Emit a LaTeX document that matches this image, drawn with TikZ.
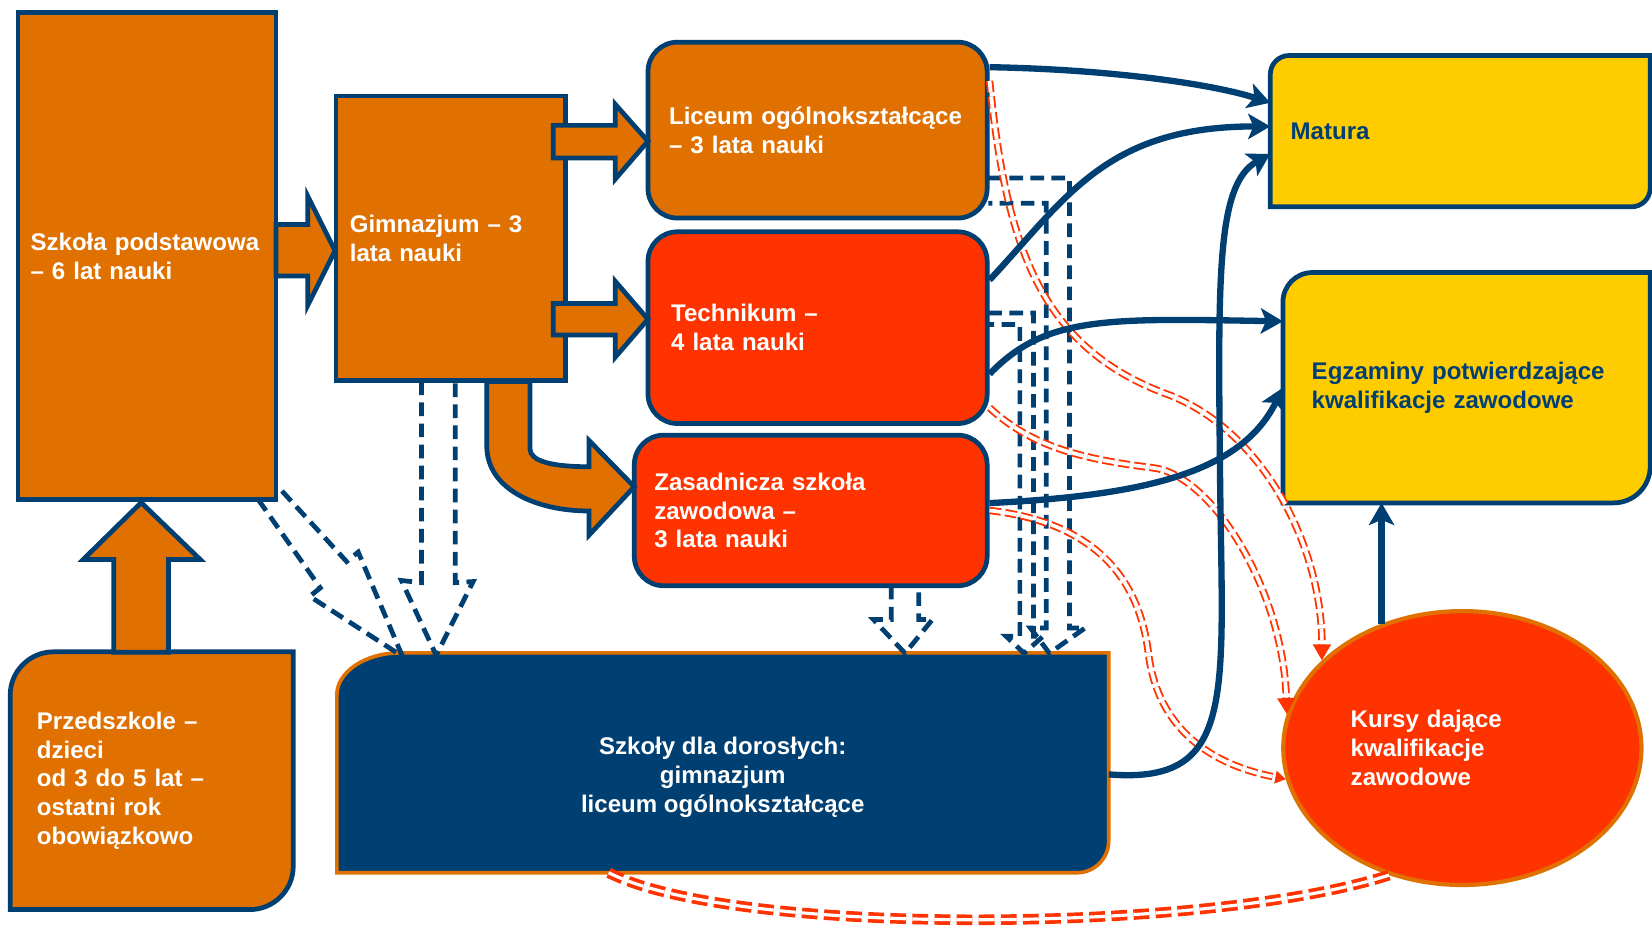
\documentclass[tikz,border=0pt]{standalone}
\usepackage{fontspec}
\setmainfont{Liberation Sans}
\usetikzlibrary{arrows.meta,shapes.geometric,backgrounds}
\definecolor{navy}{RGB}{0,63,114}
\definecolor{ochre}{RGB}{224,112,0}
\definecolor{scarlet}{RGB}{255,51,0}
\definecolor{amber}{RGB}{255,204,0}
\begin{document}
\begin{tikzpicture}[x=0.02cm, y=-0.02cm,
		every node/.style	= {font=\bfseries\fontsize{13}{15.6}\selectfont, inner ysep=0pt},
		box/.style		= {draw=navy, line width=0.09cm, text=white, align=left},
		plate/.style		= {fill=#1, draw=navy, line width=0.09cm},
		blockarr/.style	= {fill=ochre, draw=navy, line width=0.09cm},
		hollow/.style		= {draw=navy, line width=0.09cm, dash pattern=on 0.26cm off 0.14cm},
		flow/.style		= {draw=navy, line width=0.12cm, -{Stealth[length=0.42cm, width=0.48cm, inset=0.1cm]}},
		redlink/.style	= {draw=scarlet, double=white, line width=0.035cm, double distance=0.07cm, dash pattern=on 0.22cm off 0.08cm},
		redtail/.style	= {draw=scarlet, double=white, line width=0.07cm, double distance=0.06cm, dash pattern=on 0.3cm off 0.12cm}]
	% Cadre
	\useasboundingbox	(0,0) rectangle (1568,879);
	% Noeuds
	\node [box, fill=ochre, minimum width=4.9cm, minimum height=9.24cm, text width=4.42cm, inner xsep=0.24cm]	(sp)	at (139.5,243)	{Szkoła podstawowa\\– 6 lat nauki};
	\node [box, fill=ochre, minimum width=4.36cm, minimum height=5.4cm, text width=3.84cm, inner xsep=0.26cm]	(gim)	at (428,226)	{Gimnazjum – 3\\lata nauki};
	\node [box, fill=ochre, rounded corners=0.56cm, minimum width=6.44cm, minimum height=3.34cm, text width=5.64cm, inner xsep=0.4cm]	(lo)	at (776,123.5)	{Liceum ogólnokształcące\\– 3 lata nauki};
	\node [box, fill=scarlet, rounded corners=0.56cm, minimum width=6.44cm, minimum height=3.64cm, text width=5.56cm, inner xsep=0.44cm]	(tech)	at (776,311)	{Technikum –\\4 lata nauki};
	\node [box, fill=scarlet, rounded corners=0.56cm, minimum width=6.7cm, minimum height=2.86cm, text width=5.94cm, inner xsep=0.38cm]	(zsz)	at (769.5,484.5)	{Zasadnicza szkoła\\zawodowa –\\3 lata nauki};
	\node [text=navy, align=left, minimum width=7.2cm, minimum height=2.86cm, text width=6.44cm, inner xsep=0.38cm]	(matura)	at (1386,124.5)	{Matura};
	\node [text=navy, align=left, minimum width=6.96cm, minimum height=4.36cm, text width=5.88cm, inner xsep=0.54cm]	(egz)	at (1392,368)	{Egzaminy potwierdzające\\kwalifikacje zawodowe};
	\node [text=white, align=left, minimum width=5.36cm, minimum height=4.88cm, text width=4.36cm, inner xsep=0.5cm]	(pre)	at (144,741)	{Przedszkole –\\dzieci\\od 3 do 5 lat –\\ostatni rok\\obowiązkowo};
	\node [minimum width=14.64cm, minimum height=4.16cm]	(sdd)	at (686,724)	{};
	\node [text=white, align=center]	(sddtxt)	at ([yshift=-0.28cm]sdd.center)	{Szkoły dla dorosłych:\\gimnazjum\\liceum ogólnokształcące};
	\node [ellipse, fill=scarlet, draw=ochre, line width=0.08cm, text=white, align=left, minimum width=6.8cm, minimum height=5.2cm, text width=4.24cm, inner sep=0pt]	(kursy)	at (1388,710)	{Kursy dające\\kwalifikacje\\zawodowe};
	% Fonds
	\begin{scope}[on background layer]
		\path [plate=amber]	(matura.south west) -- ([yshift=-0.36cm]matura.north west) .. controls ([yshift=-0.16cm]matura.north west) and ([xshift=0.16cm]matura.north west) .. ([xshift=0.36cm]matura.north west) -- (matura.north east) -- ([yshift=0.36cm]matura.south east) .. controls ([yshift=0.16cm]matura.south east) and ([xshift=-0.16cm]matura.south east) .. ([xshift=-0.36cm]matura.south east) -- cycle;
		\path [plate=amber]	(egz.south west) -- ([yshift=-0.56cm]egz.north west) .. controls ([yshift=-0.25cm]egz.north west) and ([xshift=0.25cm]egz.north west) .. ([xshift=0.56cm]egz.north west) -- (egz.north east) -- ([yshift=0.7cm]egz.south east) .. controls ([yshift=0.31cm]egz.south east) and ([xshift=-0.31cm]egz.south east) .. ([xshift=-0.7cm]egz.south east) -- cycle;
		\path [plate=ochre]	(pre.south west) -- ([yshift=-0.82cm]pre.north west) .. controls ([yshift=-0.37cm]pre.north west) and ([xshift=0.37cm]pre.north west) .. ([xshift=0.82cm]pre.north west) -- (pre.north east) -- ([yshift=0.82cm]pre.south east) .. controls ([yshift=0.37cm]pre.south east) and ([xshift=-0.37cm]pre.south east) .. ([xshift=-0.82cm]pre.south east) -- cycle;
		\path [fill=navy, draw=ochre, line width=0.07cm]	(sdd.south west) -- ([yshift=-0.8cm]sdd.north west) .. controls ([yshift=-0.36cm]sdd.north west) and ([xshift=0.54cm]sdd.north west) .. ([xshift=1.2cm]sdd.north west) -- (sdd.north east) -- ([yshift=0.6cm]sdd.south east) .. controls ([yshift=0.27cm]sdd.south east) and ([xshift=-0.27cm]sdd.south east) .. ([xshift=-0.6cm]sdd.south east) -- cycle;
	\end{scope}
	% Flèches pleines
	\path [blockarr]	(262,213) -- (292,213) -- (292,186) -- (318,238) -- (292,290) -- (292,262) -- (262,262) -- cycle;
	\path [blockarr]	(525,119) -- (584,119) -- (584,99) -- (615,134) -- (584,170) -- (584,150) -- (525,150) -- cycle;
	\path [blockarr]	(525,288) -- (584,288) -- (584,267) -- (615,303) -- (584,339) -- (584,318) -- (525,318) -- cycle;
	\path [blockarr]	(462,362) -- (462,423) .. controls (462,465) and (510,485) .. (559,485) -- (559,508) -- (602,462) -- (559,418) -- (559,443) .. controls (525,443) and (503,438) .. (503,426) -- (503,362) -- cycle;
	\path [blockarr]	(108,619) -- (108,531) -- (79,531) -- (134,477) -- (190,531) -- (160,531) -- (160,619) -- cycle;
	% Flèches pointillées
	\draw [hollow]	(245,474) -- (304,558) -- (294,566) -- (382,623) -- (340,524) -- (329,533) -- (263,461);
	\draw [hollow]	(400,362) -- (400,553) -- (381,551) -- (414,622) -- (449,552) -- (432,553) -- (432,362);
	\draw [hollow]	(846,556) -- (846,588) -- (829,588) -- (859,620) -- (885,588) -- (872,588) -- (872,556);
	\draw [hollow]	(938,169) -- (1015,169) -- (1015,596) -- (1030,596) -- (996,620) -- (978,596) -- (993,596) -- (993,193) -- (938,193);
	\draw [hollow]	(938,297) -- (981,297) -- (981,604) -- (990,604) -- (972,620) -- (955,604) -- (968,604) -- (968,308) -- (938,308);
	% Liens rouges
	\draw [redlink, -{Triangle[length=0.3cm, width=0.34cm]}]	([yshift=-0.78cm]lo.north east) .. controls (955,230) and (985,330) .. (1110,375) .. controls (1200,410) and (1255,520) .. (kursy.148);
	\draw [redlink, -{Triangle[length=0.3cm, width=0.34cm]}]	(tech.-25) .. controls (980,425) and (1030,436) .. (1094,444) .. controls (1150,450) and (1218,560) .. (kursy.169);
	\draw [redlink, -{Triangle[length=0.2cm, width=0.24cm]}]	(zsz.east) .. controls (1030,495) and (1080,540) .. (1090,620) .. controls (1100,700) and (1160,728) .. (kursy.190);
	\draw [redtail]	(kursy.-120) .. controls (1150,885) and (700,890) .. ([xshift=5.16cm]sdd.south west);
	% Liens bleus
	\coordinate (coude) at (1158,450);
	\draw [flow]	([yshift=-0.52cm]lo.north east) .. controls +(113,2) and +(-56,-18) .. ([yshift=0.54cm]matura.west);
	\draw [flow]	([yshift=-0.96cm]tech.north east) .. controls +(73,-78) and +(-156,0) .. ([yshift=0.09cm]matura.west);
	\draw [flow]	([yshift=-0.22cm]sdd.east) .. controls (1175,745) and (1160,660) .. (coude) .. controls (1156,260) and (1155,175) .. ([yshift=-0.43cm]matura.west);
	\draw [flow]	([yshift=-0.88cm]tech.east) .. controls +(53,-55) and +(-168,-3) .. ([yshift=1.26cm]egz.west);
	\draw [flow]	([yshift=0.14cm]zsz.east) .. controls +(143,-7) and +(-40,82) .. (egz.west);
	\draw [flow]	(kursy.123) -- (kursy.123 |- egz.south);
\end{tikzpicture}
\end{document}
